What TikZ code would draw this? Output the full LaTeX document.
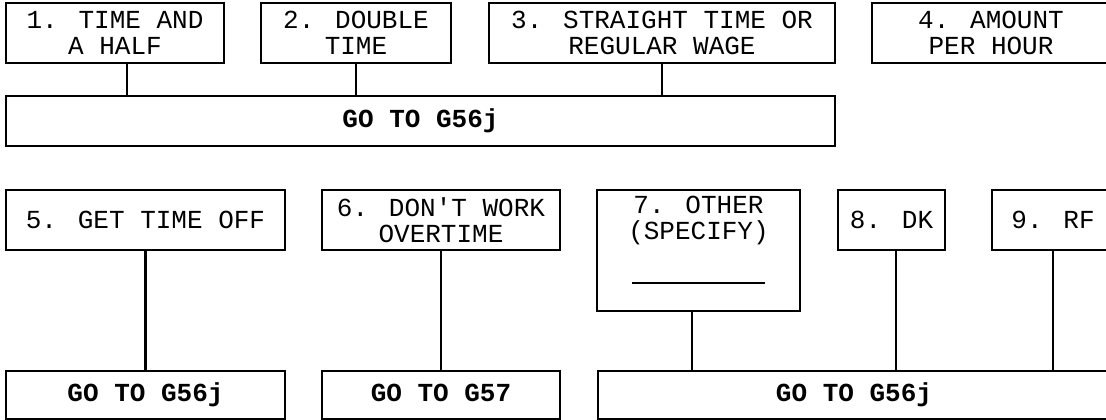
\documentclass[tikz,border=0pt]{standalone}
\usepackage{fontspec}
\newfontfamily\mono{Liberation Mono}
\tikzset{
  box/.style={draw, line width=2.3pt, inner sep=0pt, align=center, font=\mono\fontsize{26}{26}\selectfont},
  gobox/.style={box, font=\mono\bfseries\fontsize{26}{26}\selectfont},
  link/.style={line width=2.3pt},
}
\begin{document}
\begin{tikzpicture}[x=1pt,y=-1pt]
\useasboundingbox (0,0) rectangle (1106,420);
% top row
\node[box, minimum width=218, minimum height=60] (b1) at (115,33) {1. TIME AND\\A HALF};
\node[box, minimum width=190, minimum height=60] (b2) at (356,33) {2. DOUBLE\\TIME};
\node[box, minimum width=346, minimum height=60] (b3) at (662,33) {3. STRAIGHT TIME OR\\REGULAR WAGE};
\node[box, minimum width=238, minimum height=60] (b4) at (991,33) {4. AMOUNT\\PER HOUR};
\node[gobox, minimum width=829, minimum height=50] (g1) at (420.5,121) {GO TO G56j};
% bottom row
\node[box, minimum width=279, minimum height=60] (b5) at (145.5,220) {5. GET TIME OFF};
\node[box, minimum width=238, minimum height=60] (b6) at (441,220) {6. DON'T WORK\\OVERTIME};
\node[box, minimum width=203, minimum height=121] (b7) at (698.5,250.5)
  {\parbox[c][121pt][t]{200pt}{\centering\rule{0pt}{23pt}7. OTHER\\(SPECIFY)\\[19pt]\rule{133pt}{2.3pt}}};
\node[box, minimum width=107, minimum height=60] (b8) at (891.5,220) {8. DK};
\node[box, minimum width=122, minimum height=60] (b9) at (1053,220) {9. RF};
\node[gobox, minimum width=279, minimum height=48] (g5) at (145.5,395) {GO TO G56j};
\node[gobox, minimum width=238, minimum height=48] (g6) at (441,395) {GO TO G57\vphantom{j}};
\node[gobox, minimum width=512, minimum height=48] (g7) at (854,395) {GO TO G56j};
% connectors
\coordinate (c1) at ([xshift=12pt]b1.south);
\coordinate (c7) at ([xshift=-6.5pt]b7.south);
\coordinate (c8) at ([xshift=4.5pt]b8.south);
\draw[link] (c1) -- (c1 |- g1.north);
\draw[link] (b2.south) -- (b2.south |- g1.north);
\draw[link] (b3.south) -- (b3.south |- g1.north);
\draw[link] (b5.south) -- (g5.north);
\draw[link] (b6.south) -- (g6.north);
\draw[link] (c7) -- (c7 |- g7.north);
\draw[link] (c8) -- (c8 |- g7.north);
\draw[link] (b9.south) -- (b9.south |- g7.north);
\end{tikzpicture}
\end{document}
